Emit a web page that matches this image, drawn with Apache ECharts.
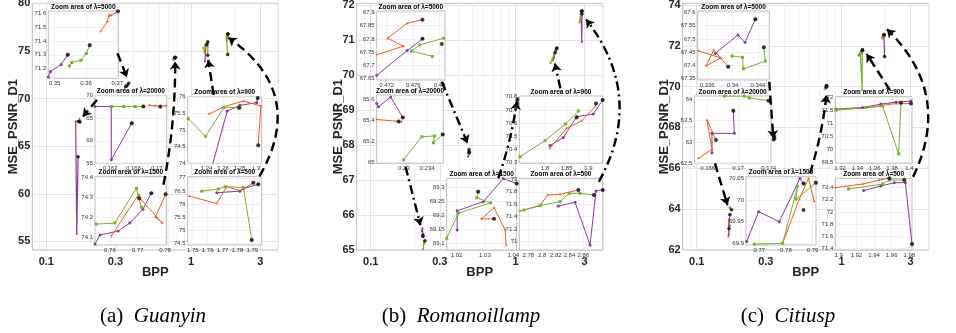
<!DOCTYPE html>
<html><head><meta charset="utf-8">
<script src="https://cdn.jsdelivr.net/npm/echarts@6/dist/echarts.min.js"></script>
<style>html,body{margin:0;padding:0;background:#fff}#c{width:956px;height:333px}</style>
</head><body><div id="c"></div>
<script>
// ---------------- DATA ----------------
const BPP_TICKS = [0.1, 0.3, 1, 3];
const BPP_MINOR = [0.09, 0.2, 0.4, 0.5, 0.6, 0.7, 0.8, 0.9, 2, 4];
const guanyin_yticks = [55, 60, 65, 70, 75, 80];
const romanoillamp_yticks = [65, 66, 67, 68, 69, 70, 71, 72];
const citiusp_yticks = [62, 64, 66, 68, 70, 72, 74];

// Guanyin
const guanyin_20000 = {
  purple: [[0.1594,67.6],[0.1622,67.6],[0.1622,55.8],[0.1657,63.9]],
  green:  [[0.1623,67.6],[0.1643,67.6],[0.1663,67.6],[0.1677,67.6]],
  orange: [[0.1687,67.9],[0.1697,67.75],[0.1706,67.7],[0.1716,67.75]],
  black:  [[0.1657,63.9],[0.1677,67.6],[0.1706,67.55]],
  xticks: [0.162, 0.166, 0.17], yticks: [55, 60, 65, 70]
};
const guanyin_5000 = {
  purple: [[0.348,71.14],[0.3487,71.18],[0.3521,71.23],[0.3542,71.30]],
  green:  [[0.3547,71.22],[0.3555,71.245],[0.3584,71.26],[0.3601,71.31],[0.3612,71.37]],
  orange: [[0.3647,71.47],[0.3668,71.54],[0.3672,71.58],[0.3676,71.59],[0.368,71.585],[0.3702,71.615]],
  black:  [[0.3542,71.30],[0.3612,71.37],[0.3702,71.615]],
  xticks: [0.35, 0.36, 0.37], yticks: [71.2, 71.3, 71.4, 71.5, 71.6]
};
const guanyin_1500 = {
  purple: [[0.7546,74.065],[0.7564,74.11],[0.763,74.13],[0.7672,74.17],[0.772,74.24],[0.775,74.32]],
  green:  [[0.755,74.165],[0.7618,74.17],[0.7696,74.345],[0.7714,74.25]],
  orange: [[0.7605,74.105],[0.7705,74.315],[0.7712,74.29],[0.779,74.17],[0.7765,74.2],[0.7802,74.315]],
  black:  [[0.775,74.32],[0.7706,74.295],[0.7802,74.315]],
  xticks: [0.76, 0.77, 0.78], yticks: [74.1, 74.2, 74.3, 74.4]
};
const guanyin_900 = {
  purple: [[1.2465,73.9],[1.2651,75.57],[1.2805,75.74],[1.3008,75.82],[1.3022,75.96]],
  green:  [[1.2177,75.34],[1.2388,74.81],[1.2611,75.68],[1.2805,75.68]],
  orange: [[1.2428,75.48],[1.2615,75.7],[1.2846,75.87],[1.306,75.72],[1.3028,74.54]],
  black:  [[1.3022,75.96],[1.2795,75.66],[1.3028,74.54]],
  xticks: [1.24, 1.26, 1.28, 1.3], yticks: [74, 74.5, 75, 75.5, 76]
};
const guanyin_500 = {
  purple: [[1.7661,76.43],[1.7817,76.49],[1.784,76.59],[1.794,76.75]],
  green:  [[1.756,76.49],[1.7672,76.57],[1.7717,76.66],[1.784,76.63],[1.7896,74.63]],
  orange: [[1.7477,76.30],[1.7661,76.02],[1.7728,76.66],[1.7817,76.51],[1.784,76.57],[1.7907,76.81]],
  black:  [[1.7907,76.81],[1.7896,74.63],[1.794,76.75]],
  xticks: [1.75, 1.76, 1.77, 1.78, 1.79], yticks: [74.5, 75, 75.5, 76, 76.5, 77]
};

// Romanoillamp
const romanoillamp_5000 = {
  purple: [[0.4705,67.6625],[0.4751,67.756],[0.4774,67.8]],
  green:  [[0.4789,67.734],[0.47575,67.754],[0.477,67.7775],[0.4806,67.8025]],
  orange: [[0.4705,67.74],[0.4745,67.7725],[0.47215,67.8025],[0.4751,67.859],[0.4774,67.8725]],
  black:  [[0.4774,67.8725],[0.4774,67.8],[0.4803,67.781]],
  xticks: [0.472, 0.476, 0.48], yticks: [67.65, 67.7, 67.75, 67.8, 67.85, 67.9]
};
const romanoillamp_20000 = {
  purple: [[0.2253,65.559],[0.2256,65.527],[0.2277,65.622],[0.2298,65.426]],
  green:  [[0.2299,65.022],[0.2331,65.243],[0.2353,65.25],[0.2351,65.186],[0.2367,65.265]],
  orange: [[0.2253,65.407],[0.2291,65.388],[0.2296,65.385]],
  black:  [[0.2298,65.426],[0.2291,65.388],[0.2367,65.265]],
  xticks: [0.23, 0.234], yticks: [65, 65.2, 65.4, 65.6]
};
const romanoillamp_1500 = {
  purple: [[1.0202,69.148],[1.0202,69.217],[1.0294,69.25],[1.0365,69.333],[1.0412,69.315]],
  green:  [[1.0165,69.118],[1.0206,69.208],[1.032,69.246],[1.0271,69.264],[1.0276,69.286]],
  orange: [[1.0332,69.188],[1.0288,69.188],[1.0332,69.228],[1.0371,69.149],[1.0375,69.093]],
  black:  [[1.0412,69.315],[1.0276,69.286],[1.0332,69.188]],
  xticks: [1.02, 1.03, 1.04], yticks: [69.1, 69.15, 69.2, 69.25, 69.3]
};
const romanoillamp_900 = {
  purple: [[1.8115,70.429],[1.8423,70.49],[1.8731,70.648],[1.9115,70.669],[1.9331,70.775]],
  green:  [[1.7423,70.345],[1.8,70.467],[1.8477,70.593],[1.8769,70.691]],
  orange: [[1.8115,70.409],[1.85,70.561],[1.8846,70.616],[1.9154,70.724],[1.9177,70.749]],
  black:  [[1.8731,70.643],[1.9331,70.775],[1.9177,70.749]],
  xticks: [1.8, 1.85, 1.9], yticks: [70.3, 70.4, 70.5, 70.6, 70.7, 70.8]
};
const romanoillamp_500 = {
  purple: [[2.8236,71.57],[2.8479,71.632],[2.8697,70.947],[2.8784,71.813],[2.8881,71.829]],
  green:  [[2.7737,71.508],[2.797,71.578],[2.8261,71.642],[2.8392,71.775],[2.8552,71.775],[2.8755,71.749]],
  orange: [[2.7679,71.492],[2.797,71.578],[2.8081,71.749],[2.8261,71.759],[2.8527,71.829]],
  black:  [[2.8527,71.829],[2.8755,71.749],[2.8881,71.829]],
  xticks: [2.78, 2.8, 2.82, 2.84, 2.86], yticks: [71, 71.2, 71.4, 71.6, 71.8, 72]
};

// Citiusp
const citiusp_5000 = {
  purple: [[0.33728,67.445],[0.34085,67.515],[0.34197,67.487],[0.3436,67.575]],
  green:  [[0.33993,67.435],[0.34156,67.43],[0.34171,67.386],[0.34518,67.416],[0.34493,67.468]],
  orange: [[0.33457,67.455],[0.33814,67.428],[0.33585,67.398],[0.33702,67.458],[0.33932,67.394]],
  black:  [[0.3436,67.575],[0.34493,67.468],[0.33932,67.394]],
  xticks: [0.336, 0.34, 0.344], yticks: [67.35, 67.4, 67.45, 67.5, 67.55, 67.6]
};
const citiusp_20000 = {
  purple: [[0.16657,62.75],[0.16657,63.203],[0.1695,63.203],[0.16937,63.734]],
  green:  [[0.16819,64.078],[0.17081,64.078],[0.17146,64.039],[0.174,63.969]],
  orange: [[0.16482,62.617],[0.16657,62.828],[0.16591,63.516],[0.16709,63.047]],
  black:  [[0.16937,63.734],[0.174,63.969],[0.16709,63.047]],
  xticks: [0.166, 0.17, 0.174], yticks: [62.5, 63, 63.5, 64]
};
const citiusp_1500 = {
  purple: [[0.76525,69.904],[0.76975,69.973],[0.7775,69.95],[0.78525,70.05],[0.78663,70.038]],
  green:  [[0.76813,69.898],[0.77875,69.9],[0.78438,70.032],[0.78375,70.002],[0.79125,70.04]],
  orange: [[0.77875,69.9],[0.785,70.002],[0.7885,70.05],[0.79063,69.996]],
  black:  [[0.78663,70.038],[0.7866,69.977],[0.79125,70.04]],
  xticks: [0.77, 0.78, 0.79], yticks: [69.9, 69.95, 70, 70.05]
};
const citiusp_900 = {
  purple: [[1.3154,71.554],[1.3462,71.617],[1.3673,71.745],[1.3846,71.821],[1.4019,71.86]],
  green:  [[1.3154,71.515],[1.35,71.617],[1.3692,71.668],[1.3877,69.832],[1.3904,71.796]],
  orange: [[1.3154,71.541],[1.3431,71.579],[1.3673,71.681],[1.3769,71.745],[1.4019,71.77]],
  black:  [[1.4019,71.77],[1.3904,71.796]],
  xticks: [1.32, 1.34, 1.36, 1.38, 1.4], yticks: [69.5, 70, 70.5, 71, 71.5, 72]
};
const citiusp_500 = {
  purple: [[1.9283,72.351],[1.9479,72.427],[1.963,72.482],[1.9755,72.482],[1.983,71.471]],
  green:  [[1.9113,72.378],[1.9498,72.46],[1.9574,72.526],[1.9743,72.526]],
  orange: [[1.8962,72.4],[1.9279,72.46],[1.946,72.526],[1.9574,72.554]],
  black:  [[1.9574,72.554],[1.9743,72.526],[1.983,71.471]],
  xticks: [1.9, 1.92, 1.94, 1.96, 1.98], yticks: [71.4, 71.6, 71.8, 72, 72.2, 72.4]
};

// Arrows (BPP, PSNR) from inset to cluster; k = curveness
const guanyin_arrows = [
  {c:[[0.31,74.76],[0.36,72.24]], k:0},
  {c:[[0.2237,69.86],[0.179,68.11]], k:0},
  {c:[[0.644,60.95],[0.776,73.88]], k:-0.05},
  {c:[[1.43,70.39],[1.314,74.06]], k:0},
  {c:[[2.96,61.82],[1.81,76.39]], k:-0.46}
];
const romanoillamp_arrows = [
  {c:[[0.31,69.81],[0.466,68.05]], k:0},
  {c:[[0.174,67.38],[0.2205,65.71]], k:0},
  {c:[[0.76,67.05],[1.02,69.24]], k:-0.05},
  {c:[[2.04,69.62],[1.87,70.33]], k:0},
  {c:[[3.76,66.95],[3.07,71.59]], k:-0.33}
];
const citiusp_arrows = [
  {c:[[0.317,70.24],[0.338,67.47]], k:0},
  {c:[[0.1337,66.24],[0.163,64.2]], k:0},
  {c:[[0.605,65.75],[0.787,69.59]], k:-0.05},
  {c:[[2.16,69.83],[1.49,71.6]], k:0},
  {c:[[3.12,65.58],[2.06,72.81]], k:-0.36}
];

// ---------------- LAYOUT ----------------
const MAIN_X = [0.08, 4];
const PANELS = [
  { tag:'(a)', name:'Guanyin', capX:153, main:[32.3,3.3,246,246.7], y:[54.1,80], yticks:guanyin_yticks,
    dash:[9,5], arrows:guanyin_arrows,
    insets:[
      {lam:'5000',  d:guanyin_5000,  r:[48.3,11,70,67.3],     x:[0.348,0.3703],  y:[71.13,71.617]},
      {lam:'20000', d:guanyin_20000, r:[95,95.7,71.7,67.6],   x:[0.1594,0.1717], y:[55,70]},
      {lam:'1500',  d:guanyin_1500,  r:[95,176.7,71.7,68.3],  x:[0.7546,0.7806], y:[74.06,74.403]},
      {lam:'900',   d:guanyin_900,   r:[187.7,96.7,74,66.6],  x:[1.217,1.307],   y:[74,76]},
      {lam:'500',   d:guanyin_500,   r:[187.7,176.7,74,68.3], x:[1.7466,1.7963], y:[74.44,77.04]}
    ]},
  { tag:'(b)', name:'Romanoillamp', capX:461, main:[356.7,3.3,246,246.7], y:[65,72.05], yticks:romanoillamp_yticks,
    dash:[9,4,2,4], arrows:romanoillamp_arrows,
    insets:[
      {lam:'5000',  d:romanoillamp_5000,  r:[376.7,11,68.3,69],    x:[0.4705,0.4808], y:[67.645,67.905]},
      {lam:'20000', d:romanoillamp_20000, r:[376.7,95,66.6,68.3],  x:[0.2253,0.2368], y:[64.99,65.64]},
      {lam:'1500',  d:romanoillamp_1500,  r:[446.7,178.3,70,71.7], x:[1.0165,1.0412], y:[69.076,69.334]},
      {lam:'900',   d:romanoillamp_900,   r:[519.3,96,83.4,67.3],  x:[1.7408,1.9331], y:[70.295,70.805]},
      {lam:'500',   d:romanoillamp_500,   r:[519.3,178.3,83.4,71.7], x:[2.7669,2.8881], y:[70.866,72.016]}
    ]},
  { tag:'(c)', name:'Citiusp', capX:788, main:[682.7,3.3,246,246.7], y:[62,74.08], yticks:citiusp_yticks,
    dash:[9,5], arrows:citiusp_arrows,
    insets:[
      {lam:'5000',  d:citiusp_5000,  r:[697.7,11,71.6,69],     x:[0.3345,0.3458], y:[67.344,67.606]},
      {lam:'20000', d:citiusp_20000, r:[694.3,96,76.7,67.3],   x:[0.16425,0.17431], y:[62.5,64.08]},
      {lam:'1500',  d:citiusp_1500,  r:[746,176.7,70,68.3],    x:[0.765,0.7913], y:[69.896,70.054]},
      {lam:'900',   d:citiusp_900,   r:[835.3,96.7,76.7,66.6], x:[1.3146,1.4031], y:[69.47,72.03]},
      {lam:'500',   d:citiusp_500,   r:[835.3,178.3,76.7,71.7], x:[1.8962,1.983], y:[71.373,72.554]}
    ]}
];

const COLORS = {purple:'#8A3A9E', orange:'#EC5A1F', green:'#7AB034'};
const SYMS = {purple:'circle', orange:'path://M4,0H6V4H10V6H6V10H4V6H0V4H4Z', green:'rect'};
const FONT = '"Liberation Sans", Arial, sans-serif';
const SERIF = '"Liberation Serif", serif';
const fmt = v => String(Math.round(v * 10000) / 10000);

// ---------------- BUILD ----------------
const option = { animation:false, backgroundColor:'#fff', grid:[], xAxis:[], yAxis:[], series:[], graphic:[] };

function addGrid(r, z) {
  option.grid.push({ left:r[0], top:r[1], width:r[2], height:r[3], show:true, backgroundColor:'#fff',
    borderColor:'#bdbdbd', borderWidth:1, z:z, containLabel:false, outerBoundsMode:'none' });
  return option.grid.length - 1;
}
function addCluster(d, xi, yi, z, inset) {
  ['purple','orange','green'].forEach(k => {
    option.series.push({ type:'line', xAxisIndex:xi, yAxisIndex:yi, data:d[k], symbol:SYMS[k],
      symbolSize: inset ? 3 : 2, showSymbol:true, lineStyle:{color:COLORS[k], width: inset ? 1 : 1.2},
      itemStyle:{color:COLORS[k]}, z:z, silent:true, animation:false });
  });
  option.series.push({ type:'scatter', xAxisIndex:xi, yAxisIndex:yi, data:d.black, symbol:'circle',
    symbolSize: inset ? 3.5 : 3, itemStyle:{color:'#1a1a1a', borderColor:'#000', borderWidth:0.5}, z:z+1, silent:true });
}

PANELS.forEach(P => {
  const g = addGrid(P.main, 0);
  const xi = option.xAxis.length;
  option.xAxis.push({ type:'log', logBase:10, gridIndex:g, min:MAIN_X[0], max:MAIN_X[1],
    name:'BPP', nameLocation:'middle', nameGap:16, nameMoveOverlap:false,
    nameTextStyle:{fontFamily:FONT, fontWeight:'bold', fontSize:13, color:'#262626'},
    axisLine:{show:false}, axisTick:{show:false, customValues:BPP_TICKS},
    axisLabel:{customValues:BPP_TICKS, formatter:fmt, fontFamily:FONT, fontWeight:'bold', fontSize:11, color:'#262626', margin:6},
    splitLine:{show:true, lineStyle:{color:'#dcdcdc', width:0.8}}, z:1 });
  option.xAxis.push({ type:'log', logBase:10, gridIndex:g, min:MAIN_X[0], max:MAIN_X[1], position:'bottom',
    axisLine:{show:false}, axisTick:{show:false, customValues:BPP_MINOR},
    axisLabel:{show:false, customValues:BPP_MINOR}, splitLine:{show:true, lineStyle:{color:'#efefef', width:0.8}}, z:0 });
  const yi = option.yAxis.length;
  option.yAxis.push({ type:'value', gridIndex:g, min:P.y[0], max:P.y[1],
    name:'MSE_PSNR_D1', nameLocation:'middle', nameGap:12, nameMoveOverlap:false,
    nameTextStyle:{fontFamily:FONT, fontWeight:'bold', fontSize:13, color:'#262626'},
    axisLine:{show:false}, axisTick:{show:false, customValues:P.yticks},
    axisLabel:{customValues:P.yticks, formatter:fmt, fontFamily:FONT, fontWeight:'bold', fontSize:11, color:'#262626', margin:2},
    splitLine:{show:true, lineStyle:{color:'#dcdcdc', width:0.8}}, z:1 });

  // main plot marks
  P.insets.forEach(I => addCluster(I.d, xi, yi, 2, false));

  // insets
  P.insets.forEach(I => {
    const gi = addGrid(I.r, 10);
    const ix = option.xAxis.length;
    option.xAxis.push({ type:'value', gridIndex:gi, min:I.x[0], max:I.x[1],
      axisLine:{show:false}, axisTick:{show:false, customValues:I.d.xticks},
      axisLabel:{customValues:I.d.xticks, formatter:fmt, fontFamily:FONT, fontSize:6, color:'#333', margin:2},
      splitLine:{show:true, lineStyle:{color:'#e8e8e8', width:0.6}}, z:11 });
    const iy = option.yAxis.length;
    option.yAxis.push({ type:'value', gridIndex:gi, min:I.y[0], max:I.y[1],
      axisLine:{show:false}, axisTick:{show:false, customValues:I.d.yticks},
      axisLabel:{customValues:I.d.yticks, formatter:fmt, fontFamily:FONT, fontSize:6, color:'#333', margin:2},
      splitLine:{show:true, lineStyle:{color:'#e8e8e8', width:0.6}}, z:11 });
    addCluster(I.d, ix, iy, 12, true);
    option.graphic.push({ type:'text', x: I.r[0] + I.r[2] / 2, y: I.r[1] - 0.5, z:15, silent:true,
      style:{ text:'Zoom area of λ=' + I.lam, align:'center', verticalAlign:'bottom',
        fontFamily:FONT, fontWeight:'bold', fontSize:6.5, fill:'#000' } });
  });

  // arrows
  option.series.push({ type:'lines', coordinateSystem:'cartesian2d', xAxisIndex:xi, yAxisIndex:yi,
    clip:false, z:20, silent:true, polyline:false, symbol:['none','arrow'], symbolSize:8,
    lineStyle:{color:'#000', width:2.4, type:P.dash, opacity:1},
    data: P.arrows.map(a => ({ coords:a.c, lineStyle:{curveness:a.k} })) });

  // caption
  option.graphic.push({ type:'text', x:P.capX, y:316, z:30, silent:true,
    style:{ text:'{n|' + P.tag + '}  {i|' + P.name + '}', align:'center', verticalAlign:'middle',
      fontSize:21, fontFamily:SERIF, fill:'#000',
      rich:{ n:{fontSize:21, fontFamily:SERIF, fill:'#000'},
             i:{fontSize:21, fontFamily:SERIF, fontStyle:'italic', fill:'#000'} } } });
});

const chart = echarts.init(document.getElementById('c'), null, {renderer:'canvas'});
chart.setOption(option);
</script></body></html>
